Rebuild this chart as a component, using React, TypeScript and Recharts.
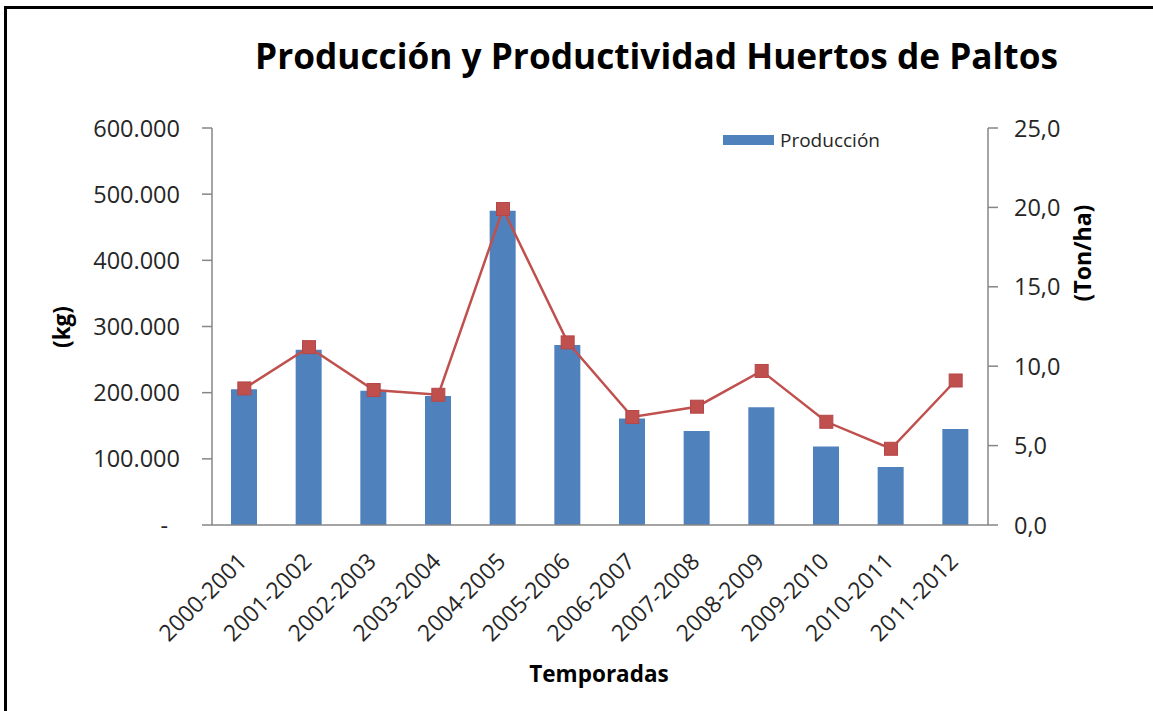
import React from 'react';
import { ComposedChart, Bar, Line, XAxis, YAxis, Legend } from 'recharts';

const seasons = [
  '2000-2001', '2001-2002', '2002-2003', '2003-2004', '2004-2005', '2005-2006',
  '2006-2007', '2007-2008', '2008-2009', '2009-2010', '2010-2011', '2011-2012',
];
const produccion = [205000, 265000, 203000, 195000, 475000, 272000, 161000, 142000, 178000, 118500, 87500, 145000];
const productividad = [8.6, 11.2, 8.5, 8.2, 19.9, 11.5, 6.8, 7.45, 9.7, 6.5, 4.8, 9.1];
const leftTicks = [0, 100000, 200000, 300000, 400000, 500000, 600000];
const rightTicks = [0, 5, 10, 15, 20, 25];

const data = seasons.map((s, i) => ({ season: s, produccion: produccion[i], productividad: productividad[i] }));

const FONT = '"Open Sans", "DejaVu Sans", sans-serif';
const TICK_COLOR = '#262626';
const AXIS_COLOR = '#868686';
const BAR_COLOR = '#4F81BD';
const LINE_COLOR = '#C0504D';

const fmtLeft = (v: number) => {
  if (v === 0) return '-';
  const s = String(Math.round(v));
  return s.replace(/\B(?=(\d{3})+(?!\d))/g, '.');
};
const fmtRight = (v: number) => v.toFixed(1).replace('.', ',');

const LeftTick = (props: any) => {
  const { x, y, payload } = props;
  const v = payload.value as number;
  return (
    <text x={v === 0 ? x - 12 : x} y={y} dy={8.5} textAnchor="end" fill={TICK_COLOR} fontSize={23.5} fontFamily={FONT}>
      {fmtLeft(v)}
    </text>
  );
};

const RightTick = (props: any) => {
  const { x, y, payload } = props;
  return (
    <text x={x} y={y} dy={8.5} textAnchor="start" fill={TICK_COLOR} fontSize={23.5} fontFamily={FONT}>
      {fmtRight(payload.value)}
    </text>
  );
};

const XTick = (props: any) => {
  const { x, y, payload } = props;
  return (
    <g transform={`translate(${x + 4},${y + 38})`}>
      <text transform="rotate(-45)" textAnchor="end" fill={TICK_COLOR} fontSize={23} fontFamily={FONT}>
        {payload.value}
      </text>
    </g>
  );
};

const SquareDot = (p: any) => (
  <rect key={`d${p.index}`} x={p.cx - 6.5} y={p.cy - 6.5} width={13} height={13} fill={LINE_COLOR} stroke="#B5474A" strokeWidth={1} />
);

const LegendContent = () => (
  <div style={{ display: 'flex', alignItems: 'center', fontFamily: FONT, fontSize: 19, color: TICK_COLOR, whiteSpace: 'nowrap', lineHeight: '28px' }}>
    <span style={{ display: 'inline-block', width: 51, height: 10, background: BAR_COLOR, marginRight: 6 }} />
    Producción
  </div>
);

export default function App() {
  return (
    <div style={{ position: 'absolute', left: 0, top: 0, width: 1153, height: 711, overflow: 'hidden', background: '#fff' }}>
      <div style={{ position: 'absolute', left: 4, top: 6, width: 1300, height: 900, borderLeft: '3px solid #000', borderTop: '3px solid #000' }} />
      <div style={{ position: 'absolute', left: 0, top: 0 }}>
        <ComposedChart width={1153} height={711} data={data} margin={{ top: 128, right: 65, bottom: 66, left: 112 }}>
          <XAxis
            dataKey="season"
            xAxisId="x"
            height={120}
            tickLine={false}
            tickSize={0}
            tickMargin={0}
            axisLine={{ stroke: AXIS_COLOR, strokeWidth: 1.5 }}
            tick={<XTick />}
            interval={0}
          />
          <YAxis
            yAxisId="left"
            orientation="left"
            width={100}
            domain={[0, 600000]}
            ticks={leftTicks}
            tickSize={10}
            tickMargin={22}
            axisLine={{ stroke: AXIS_COLOR, strokeWidth: 1.5 }}
            tickLine={{ stroke: AXIS_COLOR, strokeWidth: 1.5 }}
            tick={<LeftTick />}
            interval={0}
          />
          <YAxis
            yAxisId="right"
            orientation="right"
            width={100}
            domain={[0, 25]}
            ticks={rightTicks}
            tickSize={10}
            tickMargin={16}
            axisLine={{ stroke: AXIS_COLOR, strokeWidth: 1.5 }}
            tickLine={{ stroke: AXIS_COLOR, strokeWidth: 1.5 }}
            tick={<RightTick />}
            interval={0}
          />
          <Legend
            layout="horizontal"
            verticalAlign="middle"
            align="center"
            content={<LegendContent />}
            wrapperStyle={{ position: 'absolute', left: 723, top: 126, width: 'auto', height: 28 }}
          />
          <Bar xAxisId="x" yAxisId="left" dataKey="produccion" name="Producción" fill={BAR_COLOR} barSize={26} isAnimationActive={false} />
          <Line
            xAxisId="x"
            yAxisId="right"
            type="linear"
            dataKey="productividad"
            name="Productividad"
            stroke={LINE_COLOR}
            strokeWidth={2.5}
            dot={SquareDot}
            activeDot={false}
            isAnimationActive={false}
          />
        </ComposedChart>
      </div>
      <svg width={1153} height={711} style={{ position: 'absolute', left: 0, top: 0, pointerEvents: 'none' }}>
        <text x={255} y={69} fontFamily={FONT} fontWeight={700} fontSize={35} fill="#000" textLength={803} lengthAdjust="spacingAndGlyphs">
          Producción y Productividad Huertos de Paltos
        </text>
        <text transform="translate(70,327) rotate(-90)" textAnchor="middle" fontFamily={FONT} fontWeight={700} fontSize={22.5} fill="#000">
          (kg)
        </text>
        <text transform="translate(1091,253) rotate(-90)" textAnchor="middle" fontFamily={FONT} fontWeight={700} fontSize={23} fill="#000">
          (Ton/ha)
        </text>
        <text x={599} y={682} textAnchor="middle" fontFamily={FONT} fontWeight={700} fontSize={22.5} fill="#000">
          Temporadas
        </text>
      </svg>
    </div>
  );
}
